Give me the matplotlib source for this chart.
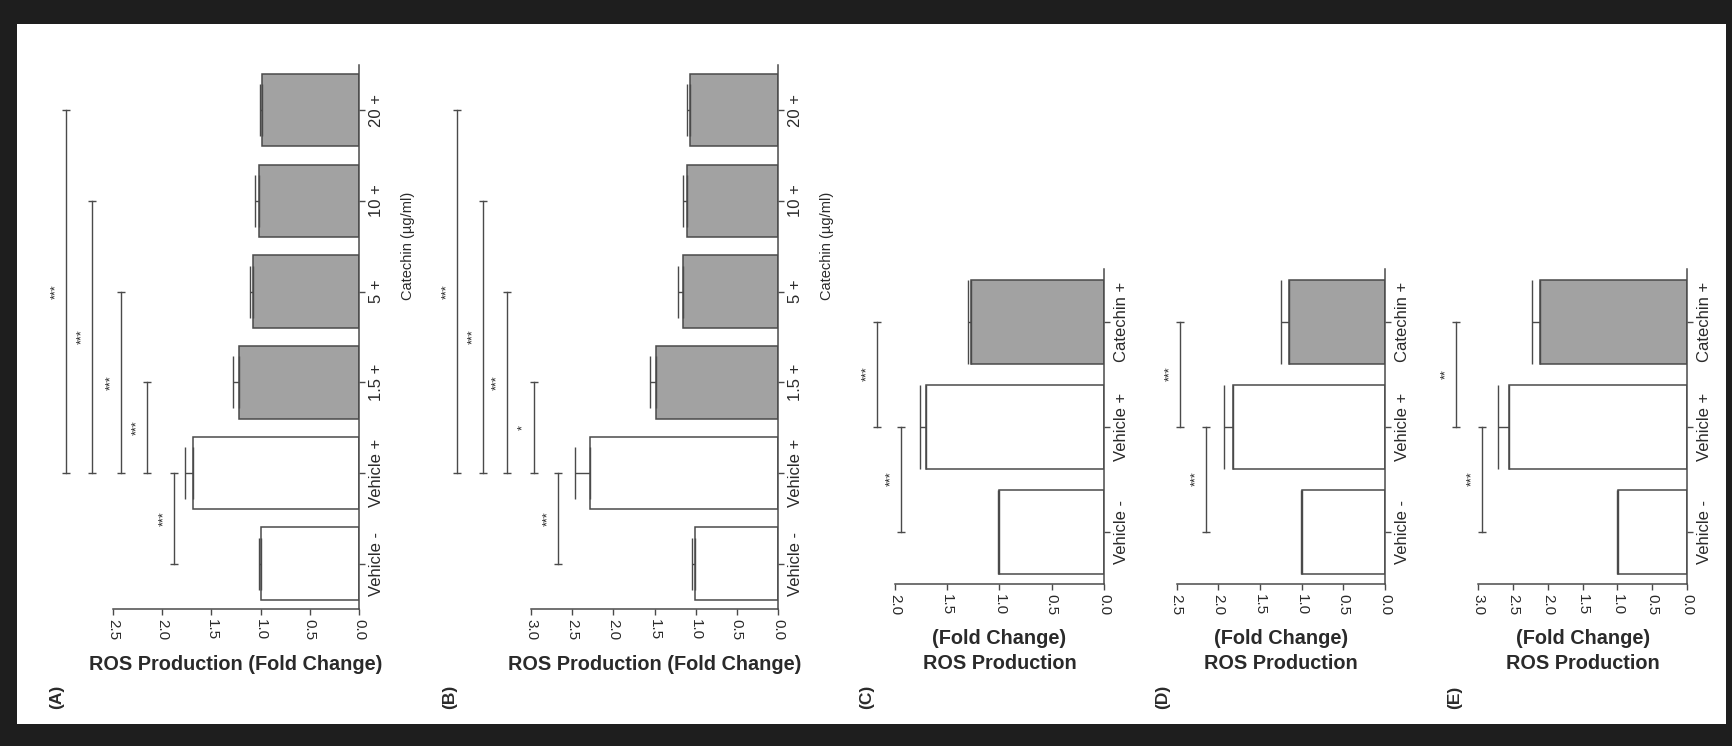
import numpy as np
import matplotlib.pyplot as plt
import matplotlib.transforms as mtransforms
from matplotlib.patches import Rectangle

plt.rcParams['font.family'] = ['Liberation Sans', 'DejaVu Sans']

# data
cats_ab = ['Vehicle -', 'Vehicle +', '1.5 +', '5 +', '10 +', '20 +']
cats_cde = ['Vehicle -', 'Vehicle +', 'Catechin +']

a_vals = [1.00, 1.69, 1.22, 1.08, 1.02, 0.99]
a_err = [0.02, 0.08, 0.06, 0.03, 0.04, 0.02]
b_vals = [1.01, 2.28, 1.48, 1.16, 1.11, 1.07]
b_err = [0.03, 0.19, 0.08, 0.05, 0.05, 0.04]
c_vals = [1.00, 1.70, 1.27]
c_err = [0.01, 0.06, 0.03]
d_vals = [1.00, 1.82, 1.15]
d_err = [0.01, 0.11, 0.10]
e_vals = [0.99, 2.56, 2.11]
e_err = [0.01, 0.15, 0.11]

# significance brackets: (from, to, height, stars)
a_sig = [(0, 1, 1.88, '***'), (1, 2, 2.15, '***'), (1, 3, 2.42, '***'),
         (1, 4, 2.71, '***'), (1, 5, 2.98, '***')]
b_sig = [(0, 1, 2.67, '***'), (1, 2, 2.97, '*'), (1, 3, 3.29, '***'),
         (1, 4, 3.58, '***'), (1, 5, 3.90, '***')]
c_sig = [(0, 1, 1.94, '***'), (1, 2, 2.17, '***')]
d_sig = [(0, 1, 2.15, '***'), (1, 2, 2.46, '***')]
e_sig = [(0, 1, 2.95, '***'), (1, 2, 3.32, '**')]

W, H = 1733, 746
LINE = '#4a4a4a'
TXT = '#2a2a2a'
GRAY = '#a2a2a2'

fig = plt.figure(figsize=(W / 100, H / 100), dpi=100)
fig.patch.set_facecolor('#1e1e1e')
fig.patches.append(Rectangle((17 / W, 1 - 724 / H), (1726 - 17) / W, (724 - 24) / H,
                             transform=fig.transFigure, facecolor='white',
                             edgecolor='none', zorder=-5))


def panel(zero_px, unit_px, spine_py, cat_px, xmax, tmax, cats, vals, errs,
          sig, ylabel, label_py, tag, tag_px, capsize, catechin=False):
    n = len(cats)
    w = xmax * unit_px
    h = n * cat_px
    ax = fig.add_axes([(zero_px - w) / W, 1 - spine_py / H, w / W, h / H])
    ax.patch.set_alpha(0)
    y = np.arange(n)
    colors = ['white' if c.startswith('Vehicle') else GRAY for c in cats]
    ax.barh(y, vals, height=0.8, color=colors, edgecolor=LINE, linewidth=1.1,
            xerr=[np.zeros(n), errs],
            error_kw=dict(ecolor=LINE, elinewidth=1, capsize=capsize, capthick=1))
    for i, j, v, s in sig:
        ax.plot([v, v], [i, j], color=LINE, lw=1, marker='_', ms=6, mew=1,
                clip_on=False)
        ax.text(v + 10 / unit_px, (i + j) / 2, s, rotation=90, ha='center',
                va='center', fontsize=9, color=TXT, clip_on=False)
    ax.set_xlim(xmax, 0)
    ax.set_ylim(-0.5, n - 0.5)
    for side in ['left', 'top']:
        ax.spines[side].set_visible(False)
    for side in ['bottom', 'right']:
        ax.spines[side].set_color(LINE)
        ax.spines[side].set_linewidth(1.1)
    ax.spines['bottom'].set_bounds(0, tmax)
    ticks = np.arange(0, tmax + 0.01, 0.5)
    ax.set_xticks(ticks)
    ax.set_xticklabels([f'{t:.1f}' for t in ticks], rotation=-90, fontsize=11,
                       color=TXT)
    ax.yaxis.tick_right()
    ax.set_yticks(y)
    ax.set_yticklabels(cats, rotation=90, va='center', fontsize=12, color=TXT)
    ax.tick_params(axis='both', colors=LINE, labelcolor=TXT, length=4, width=1)
    ax.tick_params(axis='y', pad=3)
    tr = mtransforms.blended_transform_factory(ax.transData, fig.transFigure)
    ax.text(tmax / 2, 1 - label_py / H, ylabel, transform=tr, ha='center',
            va='center', fontsize=14.3, fontweight='bold', color=TXT,
            linespacing=1.35)
    fig.text(tag_px / W, 1 - 697 / H, tag, rotation=90, ha='center',
             va='center', fontsize=12.5, fontweight='bold', color=TXT)
    if catechin:
        ax.text(-49 / unit_px, (n - 1 + 2) / 2, 'Catechin (µg/ml)', rotation=90,
                ha='center', va='center', fontsize=10.5, color=TXT, clip_on=False,
                family=['Liberation Sans Narrow', 'Liberation Sans', 'DejaVu Sans'])
    return ax


panel(359, 98.4, 609, 90.7, 3.15, 2.5, cats_ab, a_vals, a_err, a_sig,
      'ROS Production (Fold Change)', 665, '(A)', 57, 19, catechin=True)
panel(778, 82.3, 609, 90.7, 4.15, 3.0, cats_ab, b_vals, b_err, b_sig,
      'ROS Production (Fold Change)', 665, '(B)', 450, 19, catechin=True)
panel(1104, 104.5, 584, 105, 2.35, 2.0, cats_cde, c_vals, c_err, c_sig,
      '(Fold Change)\nROS Production', 651, '(C)', 867, 30)
panel(1385, 83.3, 584, 105, 2.7, 2.5, cats_cde, d_vals, d_err, d_sig,
      '(Fold Change)\nROS Production', 651, '(D)', 1163, 30)
panel(1687, 69.6, 584, 105, 3.6, 3.0, cats_cde, e_vals, e_err, e_sig,
      '(Fold Change)\nROS Production', 651, '(E)', 1455, 30)

fig.savefig('out.png', dpi=100, facecolor=fig.get_facecolor())
